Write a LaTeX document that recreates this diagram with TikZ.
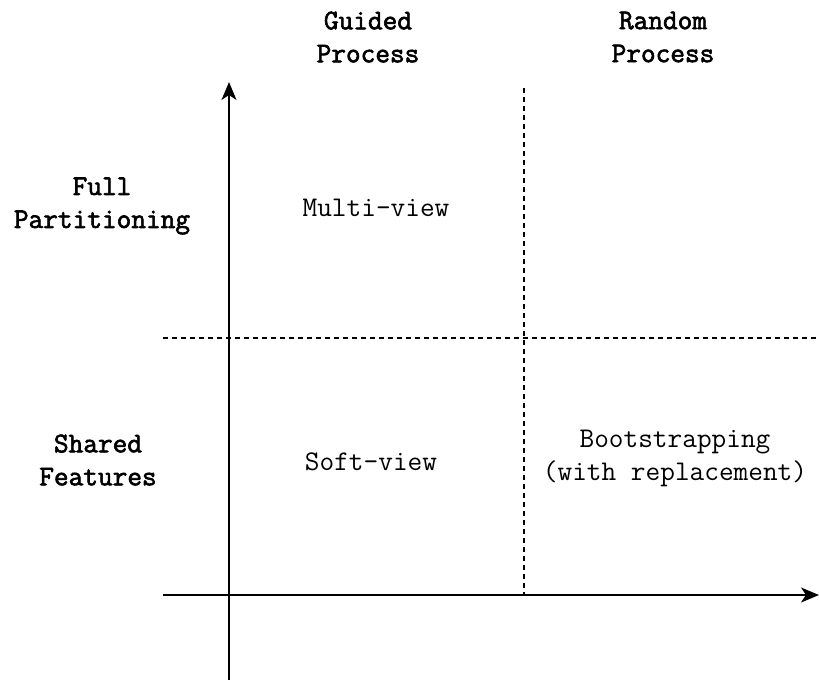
\documentclass[tikz,border=0pt]{standalone}
\usepackage{fontspec}
\setmonofont{Latin Modern Mono}
\newfontfamily\headfont{Latin Modern Mono}[FakeBold=2.2]
\usetikzlibrary{arrows.meta}
\begin{document}
\begin{tikzpicture}[x=1pt,y=-1pt,
  axis/.style={line width=1.6pt,-{Stealth[length=18pt,width=15pt,inset=5pt]}},
  divider/.style={line width=1.3pt,dash pattern=on 5pt off 4pt},
  lbl/.style={align=center,font=\fontsize{28.5}{33}\selectfont\headfont},
  cell/.style={align=center,font=\fontsize{28.5}{33}\selectfont\ttfamily}]
\useasboundingbox (0,0) rectangle (819,680);
% axes end points
\coordinate (yb) at (229,680);
\coordinate (yt) at (229,82);
\coordinate (xl) at (163,595);
\coordinate (xr) at (819,595);
\coordinate (hl) at (163,338);
\coordinate (hr) at (819,338);
\coordinate (vt) at (524,88);
\coordinate (vb) at (524,595);
% dashed quadrant dividers
\draw[divider] (hl) -- (hr);
\draw[divider] (vt) -- (vb);
% axes
\draw[axis] (yb) -- (yt);
\draw[axis] (xl) -- (xr);
% column headings
\node[lbl] (guided) at (368,37) {Guided\\Process};
\node[lbl] (random) at (663,37) {Random\\Process};
% row headings
\node[lbl] (full) at (102,206) {Full\\Partitioning};
\node[lbl] (shared) at (98,460) {Shared\\Features};
% cell contents
\node[cell] (multi) at (376,208) {Multi-view};
\node[cell] (soft) at (371,462) {Soft-view};
\node[cell] (boot) at (675,458) {Bootstrapping\\(with replacement)};
\end{tikzpicture}
\end{document}
